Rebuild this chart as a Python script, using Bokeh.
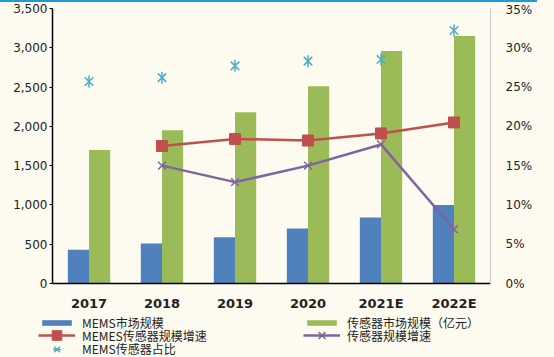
import math
from bokeh.plotting import figure
from bokeh.layouts import column
from bokeh.models import (Range1d, LinearAxis, FactorRange, Legend, LegendItem,
                          NumeralTickFormatter, FixedTicker, ColumnDataSource,
                          CustomJSTickFormatter, Spacer)
from bokeh.transform import dodge
from bokeh.embed import file_html
from bokeh.resources import INLINE

years = ["2017", "2018", "2019", "2020", "2021E", "2022E"]
mems_market = [430, 510, 590, 700, 840, 1000]
sensor_market = [1700, 1950, 2180, 2510, 2960, 3150]
growth_years = ["2018", "2019", "2020", "2021E", "2022E"]
mems_growth = [17.5, 18.4, 18.2, 19.1, 20.5]
sensor_growth = [15.0, 12.9, 15.0, 17.7, 6.9]
mems_share = [25.7, 26.2, 27.7, 28.3, 28.5, 32.2]
left_ticks = [0, 500, 1000, 1500, 2000, 2500, 3000, 3500]
right_ticks = [0, 5, 10, 15, 20, 25, 30, 35]

BG = "#FDFBF0"
FONT = "DejaVu Sans"
CJK = "Noto Sans CJK SC"
C_MEMS, C_SENSOR, C_RED, C_PURPLE, C_CYAN = "#4F81BD", "#9BBB59", "#C0504D", "#8064A2", "#4BACC6"

bars = ColumnDataSource(dict(x=years, mems=mems_market, sensor=sensor_market, share=mems_share))
lines = ColumnDataSource(dict(x=growth_years, mg=mems_growth, sg=sensor_growth))


def draw_series(fig, visible=True):
    r = {}
    r["mems"] = fig.vbar(x=dodge("x", -0.145, range=fig.x_range), top="mems", width=0.29,
                         source=bars, fill_color=C_MEMS, line_color=None)
    r["sensor"] = fig.vbar(x=dodge("x", 0.145, range=fig.x_range), top="sensor", width=0.29,
                           source=bars, fill_color=C_SENSOR, line_color=None)
    r["mg_line"] = fig.line("x", "mg", source=lines, y_range_name="pct", line_color=C_RED, line_width=2.5)
    r["mg_pts"] = fig.scatter("x", "mg", source=lines, y_range_name="pct", marker="square", size=11,
                              fill_color=C_RED, line_color=C_RED)
    r["sg_line"] = fig.line("x", "sg", source=lines, y_range_name="pct", line_color=C_PURPLE, line_width=2.5)
    r["sg_pts"] = fig.scatter("x", "sg", source=lines, y_range_name="pct", marker="x", size=11,
                              line_color=C_PURPLE, line_width=1.5)
    r["star1"] = fig.scatter("x", "share", source=bars, y_range_name="pct", marker="x", size=12,
                             line_color=C_CYAN, line_width=1.5)
    r["star2"] = fig.scatter("x", "share", source=bars, y_range_name="pct", marker="dash", size=12,
                             angle=math.pi / 2, line_color=C_CYAN, line_width=1.5)
    for v in r.values():
        v.visible = visible
    return r


# ---------------- main chart ----------------
MAIN_H = 311
p = figure(width=554, height=MAIN_H, x_range=FactorRange(factors=years, range_padding=0),
           y_range=Range1d(0, 3500), output_backend="svg", toolbar_location=None,
           min_border_left=52, min_border_right=64, min_border_top=6, min_border_bottom=30,
           background_fill_color=BG, border_fill_color=BG, outline_line_color=None)
p.extra_y_ranges = {"pct": Range1d(0, 35)}
p.grid.visible = False
draw_series(p)

ya = p.yaxis[0]
ya.ticker = FixedTicker(ticks=left_ticks)
ya.formatter = NumeralTickFormatter(format="0,0")
ya.axis_line_color = "#000000"
ya.axis_line_width = 1.5
ya.major_tick_in = 0
ya.major_tick_out = 3
ya.minor_tick_line_color = None
ya.major_label_text_font = FONT
ya.major_label_text_font_size = "12px"
ya.major_label_text_color = "#222222"
ya.major_label_standoff = 2

ra = LinearAxis(y_range_name="pct", ticker=FixedTicker(ticks=right_ticks),
                formatter=CustomJSTickFormatter(code="return tick + '%';"))
ra.axis_line_color = "#C8C8C8"
ra.axis_line_width = 1
ra.major_tick_line_color = None
ra.major_tick_out = 0
ra.major_tick_in = 0
ra.minor_tick_line_color = None
ra.major_label_text_font = FONT
ra.major_label_text_font_size = "12px"
ra.major_label_text_color = "#222222"
ra.major_label_standoff = 15
p.add_layout(ra, "right")

xa = p.xaxis[0]
xa.axis_line_color = "#000000"
xa.axis_line_width = 1.5
xa.major_tick_line_color = None
xa.major_tick_out = 0
xa.major_tick_in = 0
xa.minor_tick_line_color = None
xa.major_label_text_font = FONT
xa.major_label_text_font_size = "13px"
xa.major_label_text_font_style = "bold"
xa.major_label_text_color = "#222222"
xa.major_label_standoff = 12

# ---------------- legend strip ----------------
LF_H = 357 - 2 - MAIN_H
lf = figure(width=554, height=LF_H, x_range=FactorRange(factors=years), y_range=Range1d(0, 1),
            output_backend="svg", toolbar_location=None, min_border=0,
            x_axis_location=None, y_axis_location=None,
            background_fill_color=BG, border_fill_color=BG, outline_line_color=None)
lf.extra_y_ranges = {"pct": Range1d(0, 1)}
lf.grid.visible = False
lr = draw_series(lf, visible=False)

# stop the column from aligning the legend strip's frame with the chart's frame
try:
    lf.frame_align = False
    p.frame_align = False
    X_SHIFT = 0
except Exception:
    X_SHIFT = 57

TEXT_H = 17


def add_legend(label, renderers, x, center, glyph_h):
    lg = Legend(items=[LegendItem(label=label, renderers=renderers)], orientation="vertical")
    h = max(glyph_h, TEXT_H)
    lg.location = (x - X_SHIFT, LF_H - center - h / 2)
    lg.label_text_font = CJK
    lg.label_text_font_size = "12px"
    lg.label_text_color = "#222222"
    lg.label_height = 12
    lg.glyph_width = 37
    lg.glyph_height = glyph_h
    lg.label_standoff = 7
    lg.spacing = 0
    lg.padding = 0
    lg.margin = 0
    lg.border_line_color = None
    lg.background_fill_alpha = 0
    lg.inactive_fill_alpha = 0
    lf.add_layout(lg)


add_legend("MEMS市场规模", [lr["mems"]], 38, 9, 7)
add_legend("MEMES传感器规模增速", [lr["mg_line"], lr["mg_pts"]], 38, 22, 24)
add_legend("MEMS传感器占比", [lr["star1"], lr["star2"]], 38, 35.5, 20)
add_legend("传感器市场规模（亿元）", [lr["sensor"]], 303, 9, 7)
add_legend("传感器规模增速", [lr["sg_line"], lr["sg_pts"]], 303, 22, 24)

top_line = Spacer(width=537, height=2, styles={"background-color": "#1E9BD7"})

layout = column(top_line, p, lf, spacing=0, styles={"background-color": BG})
open("out.html", "w").write(file_html(layout, INLINE))
